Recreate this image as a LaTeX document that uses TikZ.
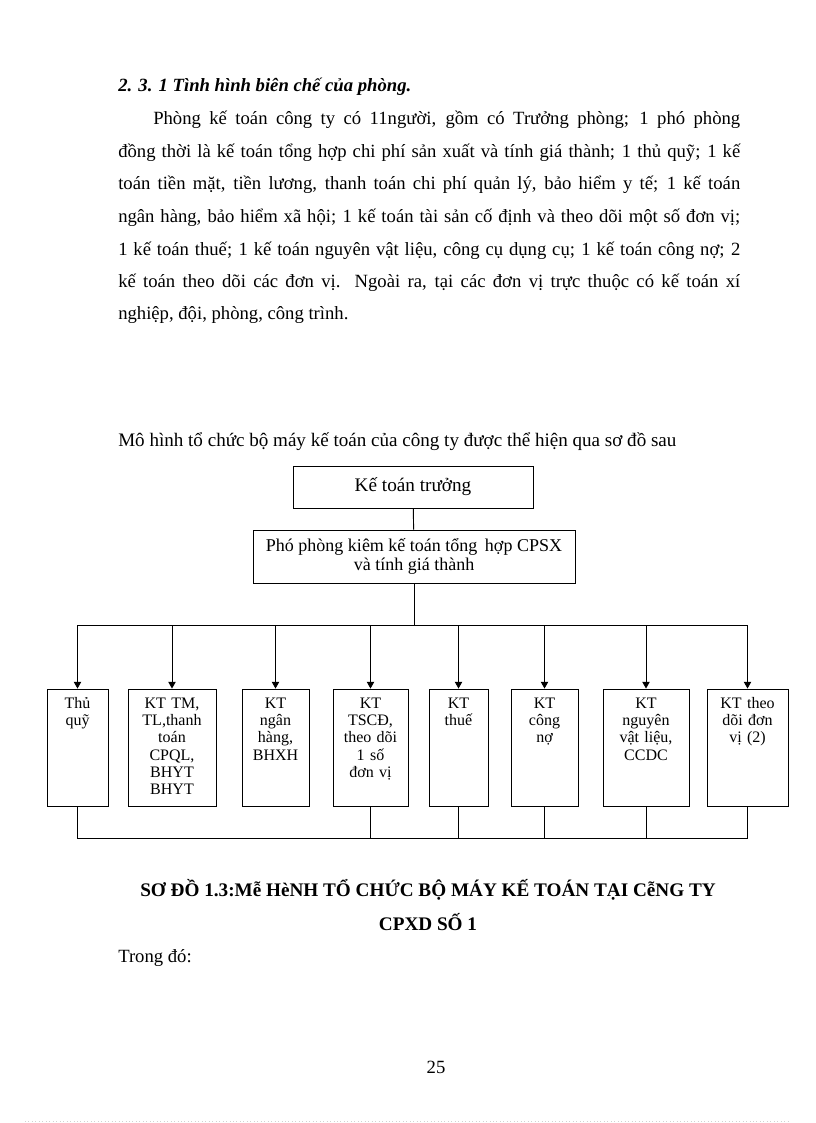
\documentclass[tikz,border=0pt]{standalone}
\usepackage{fontspec}
\setmainfont{Liberation Serif}
\usetikzlibrary{arrows.meta, positioning, fit}

\begin{document}
\begin{tikzpicture}[
  x=0.75pt, y=-0.75pt,
  body/.style   = {anchor=base west, inner sep=0pt,
                   font=\fontsize{14}{16}\selectfont},
  head/.style   = {body, font=\fontsize{14}{16}\selectfont\bfseries\itshape},
  capt/.style   = {anchor=base, inner sep=0pt,
                   font=\fontsize{14.4}{16}\selectfont\bfseries},
  chief/.style  = {draw, line width=0.7pt, inner sep=0pt,
                   minimum width=180pt, minimum height=31.5pt,
                   align=center, font=\fontsize{14.4}{16}\selectfont},
  deputy/.style = {draw, line width=0.7pt, inner sep=0pt,
                   minimum width=241.5pt, minimum height=39.75pt,
                   align=center, font=\fontsize{13.5}{14.5}\selectfont},
  unit/.style   = {draw, line width=0.7pt, inner sep=0pt},
  utext/.style  = {anchor=base, inner sep=0pt, align=center,
                   font=\fontsize{12}{13}\selectfont},
  line/.style   = {line width=0.7pt},
  arr/.style    = {-{Triangle[length=5pt, width=5.5pt]}, line width=0.7pt}
]
\useasboundingbox (0,0) rectangle (816,1123);

%-- Tiêu đề và đoạn văn ----------------------------------------------------
\node[head] (h1) at (118,92) {2. 3. 1 Tình hình biên chế của phòng.};

\node[body] (p1) at (153,125)
  {\makebox[440.25pt][s]{Phòng kế toán công ty có 11người, gồm có Trưởng phòng; 1 phó phòng}};
\node[body] (p2) at (118,157.5)
  {\makebox[466.5pt][s]{đồng thời là kế toán tổng hợp chi phí sản xuất và tính giá thành; 1 thủ quỹ; 1 kế}};
\node[body] (p3) at (118,190)
  {\makebox[466.5pt][s]{toán tiền mặt, tiền lương, thanh toán chi phí quản lý, bảo hiểm y tế; 1 kế toán}};
\node[body] (p4) at (118,222.5)
  {\makebox[466.5pt][s]{ngân hàng, bảo hiểm xã hội; 1 kế toán tài sản cố định và theo dõi một số đơn vị;}};
\node[body] (p5) at (118,255)
  {\makebox[466.5pt][s]{1 kế toán thuế; 1 kế toán nguyên vật liệu, công cụ dụng cụ; 1 kế toán công nợ; 2}};
\node[body] (p6) at (118,287)
  {\makebox[466.5pt][s]{kế toán theo dõi các đơn vị. Ngoài ra, tại các đơn vị trực thuộc có kế toán xí}};
\node[body] (p7) at (118,319.5) {nghiệp, đội, phòng, công trình.};

\node[body, font=\fontsize{14.3}{16}\selectfont] (intro) at (118,446)
  {Mô hình tổ chức bộ máy kế toán của công ty được thể hiện qua sơ đồ sau};

%-- Sơ đồ ------------------------------------------------------------------
\node[chief] (ktt) at (413,487) {Kế toán trưởng};
\node[deputy] (pp) at (414,556.5)
  {Phó phòng kiêm kế toán tổng\, hợp CPSX\\và tính giá thành};

\coordinate (topbus) at (414,625);
\coordinate (botbus) at (414,838);
\coordinate (tline)  at (0,708);

\node[unit, fit={(47,689) (108,806)}]  (tq) {};
\node[unit, fit={(128,689) (216,806)}] (tm) {};
\node[unit, fit={(242,689) (309,806)}] (nh) {};
\node[unit, fit={(333,689) (408,806)}] (cd) {};
\node[unit, fit={(429,689) (488,806)}] (th) {};
\node[unit, fit={(511,689) (578,806)}] (cn) {};
\node[unit, fit={(603,689) (689,806)}] (vl) {};
\node[unit, fit={(707,689) (788,806)}] (dv) {};

\node[utext, text width=40pt] (tq-t) at (tq.north |- tline) {Thủ\\quỹ};
\node[utext, text width=62pt] (tm-t) at (tm.north |- tline)
  {KT TM,\\TL,thanh\\toán\\CPQL,\\BHYT\\BHYT};
\node[utext, text width=46pt] (nh-t) at (nh.north |- tline) {KT\\ngân\\hàng,\\BHXH};
\node[utext, text width=52pt] (cd-t) at (cd.north |- tline)
  {KT\\TSCĐ,\\theo dõi\\1 số\\đơn vị};
\node[utext, text width=40pt] (th-t) at (th.north |- tline) {KT\\thuế};
\node[utext, text width=46pt] (cn-t) at (cn.north |- tline) {KT\\công\\nợ};
\node[utext, text width=60pt] (vl-t) at (vl.north |- tline) {KT\\nguyên\\vật liệu,\\CCDC};
\node[utext, text width=56pt] (dv-t) at (dv.north |- tline) {KT theo\\dõi đơn\\vị (2)};

%-- Đường nối ----------------------------------------------------------------
\draw[line] (ktt) -- (pp);
\draw[line] (pp) -- (topbus);
\draw[line] (tq.north |- topbus) -- (dv.north |- topbus);

\draw[arr] (tq.north |- topbus) -- (tq.north);
\draw[arr] (tm.north |- topbus) -- (tm.north);
\draw[arr] (nh.north |- topbus) -- (nh.north);
\draw[arr] (cd.north |- topbus) -- (cd.north);
\draw[arr] (th.north |- topbus) -- (th.north);
\draw[arr] (cn.north |- topbus) -- (cn.north);
\draw[arr] (vl.north |- topbus) -- (vl.north);
\draw[arr] (dv.north |- topbus) -- (dv.north);

\draw[line] (tq.south) -- (tq.south |- botbus) -- (dv.south |- botbus) -- (dv.south);
\draw[line] (cd.south) -- (cd.south |- botbus);
\draw[line] (th.south) -- (th.south |- botbus);
\draw[line] (cn.south) -- (cn.south |- botbus);
\draw[line] (vl.south) -- (vl.south |- botbus);

%-- Chú thích ----------------------------------------------------------------
\node[capt] (cap1) at (428,896)
  {SƠ ĐỒ 1.3:Mễ HèNH TỔ CHỨC BỘ MÁY KẾ TOÁN TẠI CễNG TY};
\node[capt] (cap2) at (428,930) {CPXD SỐ 1};
\node[body] (trong) at (118,962) {Trong đó:};
\node[capt, font=\fontsize{14}{16}\selectfont] (pgno) at (436,1073) {25};

\draw[gray!35, dotted, line width=0.6pt] (25,1121.5) -- (790,1121.5);
\end{tikzpicture}
\end{document}
